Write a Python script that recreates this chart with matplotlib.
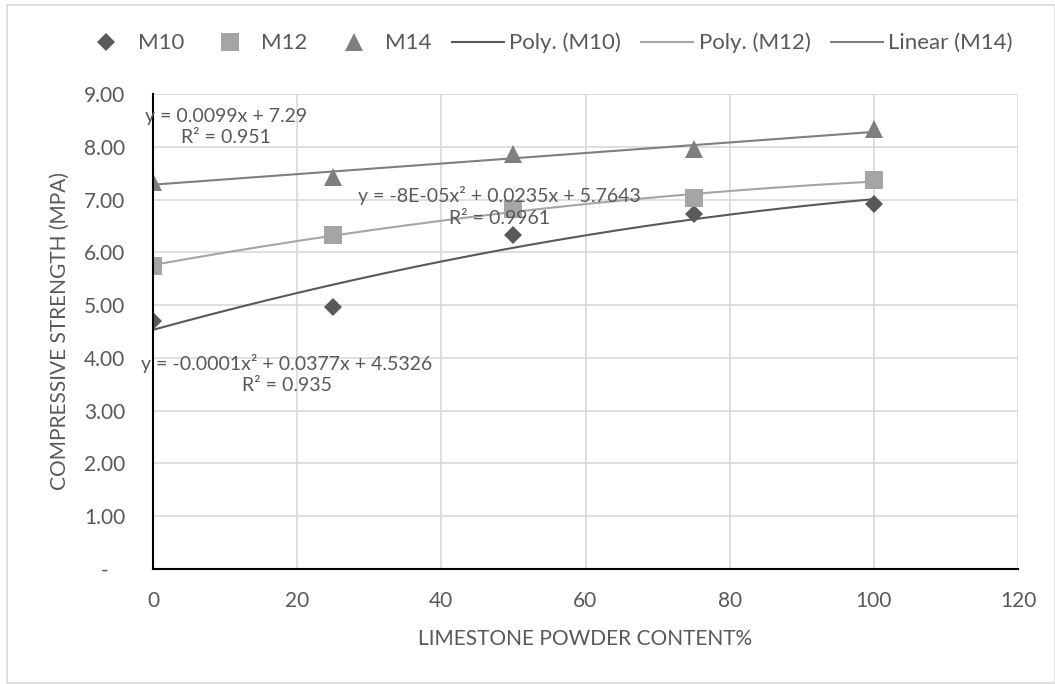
import numpy as np
import matplotlib.pyplot as plt
from matplotlib.ticker import FuncFormatter, MultipleLocator
from matplotlib.lines import Line2D
from matplotlib.patches import Rectangle

plt.rcParams['font.family'] = ['Lato', 'DejaVu Sans']

# limestone powder content (%) and compressive strength (MPa)
content = [0, 25, 50, 75, 100]
m10 = [4.70, 4.97, 6.33, 6.72, 6.92]
m12 = [5.75, 6.32, 6.82, 7.03, 7.37]
m14 = [7.34, 7.43, 7.86, 7.95, 8.33]

series_names = ['M10', 'M12', 'M14']
trend_names = ['Poly. (M10)', 'Poly. (M12)', 'Linear (M14)']
eq_texts = ['y = -0.0001x² + 0.0377x + 4.5326\nR² = 0.935',
            'y = -8E-05x² + 0.0235x + 5.7643\nR² = 0.9961',
            'y = 0.0099x + 7.29\nR² = 0.951']

TXT = '#595959'
c10, c12, c14 = '#595959', '#a5a5a5', '#7f7f7f'

fig = plt.figure(figsize=(10.55, 6.84), dpi=100)
fig.patches.append(Rectangle((6.5 / 1055, 1 / 684), 1048 / 1055, 678 / 684,
                             transform=fig.transFigure, fill=False,
                             edgecolor='#d9d9d9', lw=1.2))
ax = fig.add_axes([153 / 1055, 1 - 569 / 684, 865 / 1055, 475 / 684])

x = np.array(content, dtype=float)
xs = np.linspace(0, 100, 200)

# trendlines fitted from the data
p10 = np.polyfit(x, m10, 2)
p12 = np.polyfit(x, m12, 2)
p14 = np.polyfit(x, m14, 1)
ax.plot(xs, np.polyval(p10, xs), color=c10, lw=1.5, zorder=3)
ax.plot(xs, np.polyval(p12, xs), color=c12, lw=1.5, zorder=3)
ax.plot(xs, np.polyval(p14, xs), color=c14, lw=1.5, zorder=3)

ax.plot(x, m10, 'D', color=c10, ms=9.2, mew=0, zorder=4)
ax.plot(x, m12, 's', color=c12, ms=12.7, mew=0, zorder=4)
ax.plot(x, m14, '^', color=c14, ms=12.7, mew=0, zorder=4)

ax.set_xlim(0, 120)
ax.set_ylim(0, 9)
ax.xaxis.set_major_locator(MultipleLocator(20))
ax.yaxis.set_major_locator(MultipleLocator(1))
ax.yaxis.set_major_formatter(FuncFormatter(lambda v, p: '-   ' if v == 0 else f'{v:.2f}'))
ax.grid(True, color='#d9d9d9', lw=1.2, zorder=0)
ax.set_axisbelow(True)
for s in ['top', 'right']:
    ax.spines[s].set_visible(False)
for s in ['left', 'bottom']:
    ax.spines[s].set_color('black')
    ax.spines[s].set_linewidth(1.5)
    ax.spines[s].set_zorder(5)
ax.tick_params(length=0, labelsize=15, labelcolor=TXT)
ax.tick_params(axis='y', pad=20)
ax.tick_params(axis='x', pad=16)

ax.set_xlabel('LIMESTONE POWDER CONTENT%', fontsize=15, color=TXT)
ax.set_ylabel('COMPRESSIVE STRENGTH (MPA)', fontsize=15, color=TXT)
ax.xaxis.set_label_coords(0.5, (569 - 629) / 475)
ax.yaxis.set_label_coords((70 - 153) / 865, 0.5)

# trendline equations
ax.text(18.6, 3.69, eq_texts[0], ha='center', va='center', fontsize=14,
        color=TXT, linespacing=1.3, zorder=6)
ax.text(48.1, 6.87, eq_texts[1], ha='center', va='center', fontsize=14,
        color=TXT, linespacing=1.3, zorder=6)
ax.text(10.1, 8.37, eq_texts[2], ha='center', va='center', fontsize=14,
        color=TXT, linespacing=1.3, zorder=6)

handles = [
    Line2D([], [], ls='none', marker='D', color=c10, ms=9.2, mew=0),
    Line2D([], [], ls='none', marker='s', color=c12, ms=12.7, mew=0),
    Line2D([], [], ls='none', marker='^', color=c14, ms=12.7, mew=0),
    Line2D([], [], color=c10, lw=1.5),
    Line2D([], [], color=c12, lw=1.5),
    Line2D([], [], color=c14, lw=1.5),
]
leg = fig.legend(handles, series_names + trend_names, loc='center left',
                 bbox_to_anchor=(80 / 1055, 1 - 43 / 684), ncol=6, frameon=False,
                 fontsize=16, handlelength=2.34, handletextpad=0.25,
                 columnspacing=0.9, borderpad=0, borderaxespad=0)
for t in leg.get_texts():
    t.set_color(TXT)

fig.savefig('out.png', dpi=100, facecolor='white')
